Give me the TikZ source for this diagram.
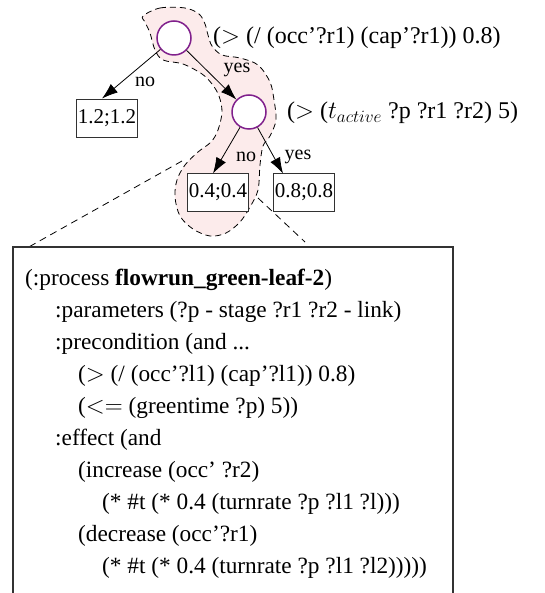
\documentclass[tikz,border=0pt]{standalone}
\usepackage{fontspec}
\setmainfont{Liberation Serif}
\usetikzlibrary{arrows.meta}
\definecolor{nodepurple}{RGB}{128,32,140}
\definecolor{blobpink}{RGB}{252,235,235}
\definecolor{boxgray}{RGB}{50,50,50}
\tikzset{
  decision/.style={circle, draw=nodepurple, line width=1.5pt, fill=white, minimum size=34pt, inner sep=0pt},
  leaf/.style={rectangle, draw=boxgray, line width=0.9pt, fill=white, minimum width=61pt, minimum height=38pt, inner sep=1pt, font=\fontsize{21}{24}\selectfont},
  cond/.style={anchor=west, inner sep=0pt, font=\fontsize{24}{28}\selectfont},
  elabel/.style={inner sep=0pt, font=\fontsize{20}{22}\selectfont},
  branch/.style={draw=black, line width=0.8pt, -{Latex[length=16pt,width=11pt]}},
  blob/.style={fill=blobpink, draw=black, line width=0.8pt, dash pattern=on 6pt off 4pt},
  zoomline/.style={draw=black, line width=0.8pt, dash pattern=on 7pt off 5pt},
  codeline/.style={anchor=base west, inner sep=0pt, font=\fontsize{23.3}{32}\selectfont},
  codebox/.style={draw=boxgray, line width=1.1pt}
}
\begin{document}
\begin{tikzpicture}[x=1pt,y=-1pt]
\useasboundingbox (0,0) rectangle (544,593);
\clip (0,0) rectangle (544,593);
% highlighted region
\path[blob] plot[smooth cycle, tension=0.55] coordinates {
 (143,16) (160,8) (185,8) (199,14) (205,24) (208,35) (212,46) (222,55)
 (240,58) (258,65) (270,82) (274,100) (276,120) (270,136) (263,146)
 (260,165) (258,190) (250,207) (240,222) (226,233) (210,236) (193,229)
 (180,216) (175,197) (177,180) (185,165) (198,152) (211,142) (218,130)
 (222,112) (219,96) (212,84) (202,74) (183,64) (163,60) (155,50) (150,33) (145,22)};
% zoom lines
\coordinate (zl1) at (182,161);
\coordinate (zl2) at (27,248);
\coordinate (zr1) at (258,198);
\coordinate (zr2) at (305,242);
\draw[zoomline] (zl1) -- (zl2);
\draw[zoomline] (zr1) -- (zr2);
% tree nodes
\node[decision] (c1) at (174,38) {};
\node[decision] (c2) at (249,112) {};
\node[leaf] (l12) at (107,118) {1.2;1.2};
\node[leaf] (l04) at (218,192) {0.4;0.4};
\node[leaf] (l08) at (304,192) {0.8;0.8};
\node[cond] (t1) at (213,38) {($>$ (/ (occ'?r1) (cap'?r1)) 0.8)};
\node[cond] (t2) at (287,113) {($>$ ($t_{\mbox{\fontsize{19}{20}\selectfont$active$}}$ ?p ?r1 ?r2) 5)};
% branches
\draw[branch] (c1) -- (l12.north -| 102,0);
\draw[branch] (c1) -- (c2);
\draw[branch] (c2) -- (213,173.5);
\draw[branch] (c2) -- (283,173.5);
\node[elabel] (n1) at (145,82) {no};
\node[elabel] (y1) at (237,70) {yes};
\node[elabel] (n2) at (246,157) {no};
\node[elabel] (y2) at (298,157) {yes};
% code box
\draw[codebox] (13,600) |- (453,247) -- (453,600);
\node[codeline] (k1) at (25,285) {(:process \textbf{flowrun\_green-leaf-2})};
\node[codeline] (k2) at (55,317) {:parameters (?p - stage ?r1 ?r2 - link)};
\node[codeline] (k3) at (55,349) {:precondition (and ...};
\node[codeline] (k4) at (78,381) {($>$ (/ (occ'?l1) (cap'?l1)) 0.8)};
\node[codeline] (k5) at (78,413) {($<=$ (greentime ?p) 5))};
\node[codeline] (k6) at (55,445) {:effect (and};
\node[codeline] (k7) at (78,477) {(increase (occ' ?r2)};
\node[codeline] (k8) at (102,509) {(* \#t (* 0.4 (turnrate ?p ?l1 ?l)))};
\node[codeline] (k9) at (78,541) {(decrease (occ'?r1)};
\node[codeline] (k10) at (102,573) {(* \#t (* 0.4 (turnrate ?p ?l1 ?l2)))))};
\end{tikzpicture}
\end{document}
